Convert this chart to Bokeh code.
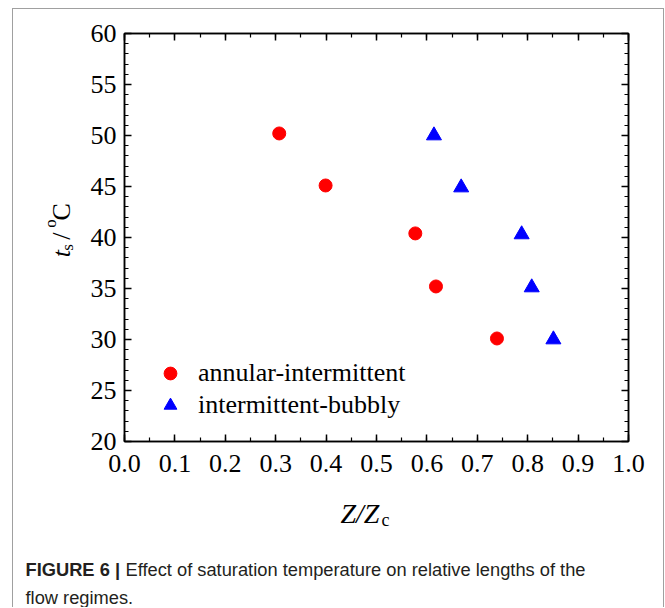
import math
from bokeh.plotting import figure
from bokeh.layouts import row, column
from bokeh.models import (Range1d, LinearAxis, SingleIntervalTicker, PrintfTickFormatter,
                          CustomJSTickFormatter, Legend, LegendItem, Label)
from bokeh.embed import file_html
from bokeh.resources import INLINE

# ---- data ----
annular_x = [0.307, 0.399, 0.577, 0.618, 0.739]
annular_y = [50.2, 45.1, 40.4, 35.2, 30.1]
bubbly_x = [0.614, 0.668, 0.788, 0.808, 0.851]
bubbly_y = [50.0, 44.9, 40.3, 35.1, 30.0]
series_names = ["annular-intermittent", "intermittent-bubbly"]
x_limits = [0.0, 1.0]
y_limits = [20, 60]
caption_bold = "FIGURE 6 |"
caption_line1 = "Effect of saturation temperature on relative lengths of the"
caption_line2 = "flow regimes."

SERIF = "Liberation Serif"
SANS = "Liberation Sans"

# ---- page geometry (page pixels) ----
OX, OY = 13, 9            # content origin inside the grey border
YLAB_W = 70               # strip holding the rotated y-axis title
MAIN_W = 580
TOP_H = 478
BOT_H = 120
FL, FR, FT, FB = 124, 628, 33, 441   # plot frame

main = figure(width=MAIN_W, height=TOP_H,
              x_range=Range1d(*x_limits), y_range=Range1d(*y_limits),
              output_backend="svg", toolbar_location=None,
              x_axis_type=None, y_axis_type=None,
              min_border_left=FL - (OX + YLAB_W), min_border_right=(OX + YLAB_W + MAIN_W) - FR,
              min_border_top=FT - OY, min_border_bottom=(OY + TOP_H) - FB)
main.grid.visible = False
main.outline_line_color = "black"
main.outline_line_width = 1.5
main.background_fill_color = "white"
main.border_fill_color = "white"


def style_axis(ax, labels=True):
    ax.axis_line_color = "black"
    ax.axis_line_width = 1.5
    ax.major_tick_line_color = "black"
    ax.minor_tick_line_color = "black"
    ax.major_tick_line_width = 1.5
    ax.minor_tick_line_width = 1.2
    ax.major_tick_in = 7
    ax.major_tick_out = 0
    ax.minor_tick_in = 4
    ax.minor_tick_out = 0
    ax.major_label_text_font = SERIF
    ax.major_label_text_font_size = "26px"
    ax.major_label_text_color = "black"
    if not labels:
        ax.formatter = CustomJSTickFormatter(code="return ''")
        ax.major_label_text_font_size = "1px"
        ax.major_label_standoff = 0


def xticker():
    return SingleIntervalTicker(interval=0.1, num_minor_ticks=2)


def yticker():
    return SingleIntervalTicker(interval=5, num_minor_ticks=5)


xb = LinearAxis(ticker=xticker(), formatter=PrintfTickFormatter(format="%.1f"))
style_axis(xb)
xb.major_label_standoff = 13
main.add_layout(xb, "below")
xt = LinearAxis(ticker=xticker())
style_axis(xt, labels=False)
main.add_layout(xt, "above")
yl = LinearAxis(ticker=yticker(), formatter=PrintfTickFormatter(format="%d"))
style_axis(yl)
yl.major_label_standoff = 8
main.add_layout(yl, "left")
yr = LinearAxis(ticker=yticker())
style_axis(yr, labels=False)
main.add_layout(yr, "right")

r1 = main.scatter(annular_x, annular_y, marker="circle", size=13,
                  fill_color="#ff0000", line_color="#ff0000")
r2 = main.scatter(bubbly_x, bubbly_y, marker="triangle", size=15,
                  fill_color="#0000ff", line_color="#0000ff")

legend = Legend(items=[LegendItem(label=series_names[0], renderers=[r1]),
                       LegendItem(label=series_names[1], renderers=[r2])],
                location=(28, 20), border_line_color=None, background_fill_alpha=0,
                padding=0, margin=0, spacing=0, glyph_width=36, glyph_height=32,
                label_height=32, label_standoff=10,
                label_text_font=SERIF, label_text_font_size="26px",
                label_text_color="black", label_text_baseline="middle")
main.add_layout(legend)


def text_panel(w, h):
    f = figure(width=w, height=h, x_range=Range1d(0, w), y_range=Range1d(0, h),
               output_backend="svg", toolbar_location=None,
               x_axis_location=None, y_axis_location=None,
               min_border=0, min_border_left=0, min_border_right=0,
               min_border_top=0, min_border_bottom=0)
    f.grid.visible = False
    f.outline_line_color = None
    f.background_fill_color = "white"
    f.border_fill_color = "white"
    return f


def put(fig, x0, y0, h, text, px, py, size, style="normal", font=SERIF, angle=0.0, color="black"):
    fig.add_layout(Label(x=px - x0, y=h - (py - y0), text=text, text_font=font,
                         text_font_size=f"{size}px", text_font_style=style,
                         text_color=color, text_align="left",
                         text_baseline="alphabetic", angle=angle))


# ---- y-axis title: t_s / °C (rotated) ----
ylab = text_panel(YLAB_W, TOP_H)
A = math.pi / 2
bx = 61
put(ylab, OX, OY, TOP_H, "t", bx, 271, 26, style="italic", angle=A)
put(ylab, OX, OY, TOP_H, "s", bx + 6, 263.5, 17, angle=A)
put(ylab, OX, OY, TOP_H, "/", bx, 250.5, 26, angle=A)
put(ylab, OX, OY, TOP_H, "o", bx - 11, 236.5, 17, angle=A)
put(ylab, OX, OY, TOP_H, "C", bx, 228, 26, angle=A)

# ---- x-axis title and caption ----
BY = OY + TOP_H
bottom = text_panel(YLAB_W + MAIN_W, BOT_H)
put(bottom, OX, BY, BOT_H, "Z/Z", 340, 513, 28, style="italic")
put(bottom, OX, BY, BOT_H, "c", 381, 519, 18)
CAP = 18.3
put(bottom, OX, BY, BOT_H, caption_bold, 25, 569, CAP, style="bold", font=SANS, color="#231f20")
put(bottom, OX, BY, BOT_H, caption_line1, 125, 569, CAP, font=SANS, color="#231f20")
put(bottom, OX, BY, BOT_H, caption_line2, 25, 597, CAP, font=SANS, color="#231f20")

layout = column(row(ylab, main, spacing=0), bottom, spacing=0)
layout.styles = {"border-left": "1px solid #a0a0a0", "border-top": "1px solid #a0a0a0",
                 "border-right": "1px solid #a0a0a0", "margin-left": "12px",
                 "margin-top": "8px", "background-color": "white"}

open("out.html", "w").write(file_html(layout, INLINE))
